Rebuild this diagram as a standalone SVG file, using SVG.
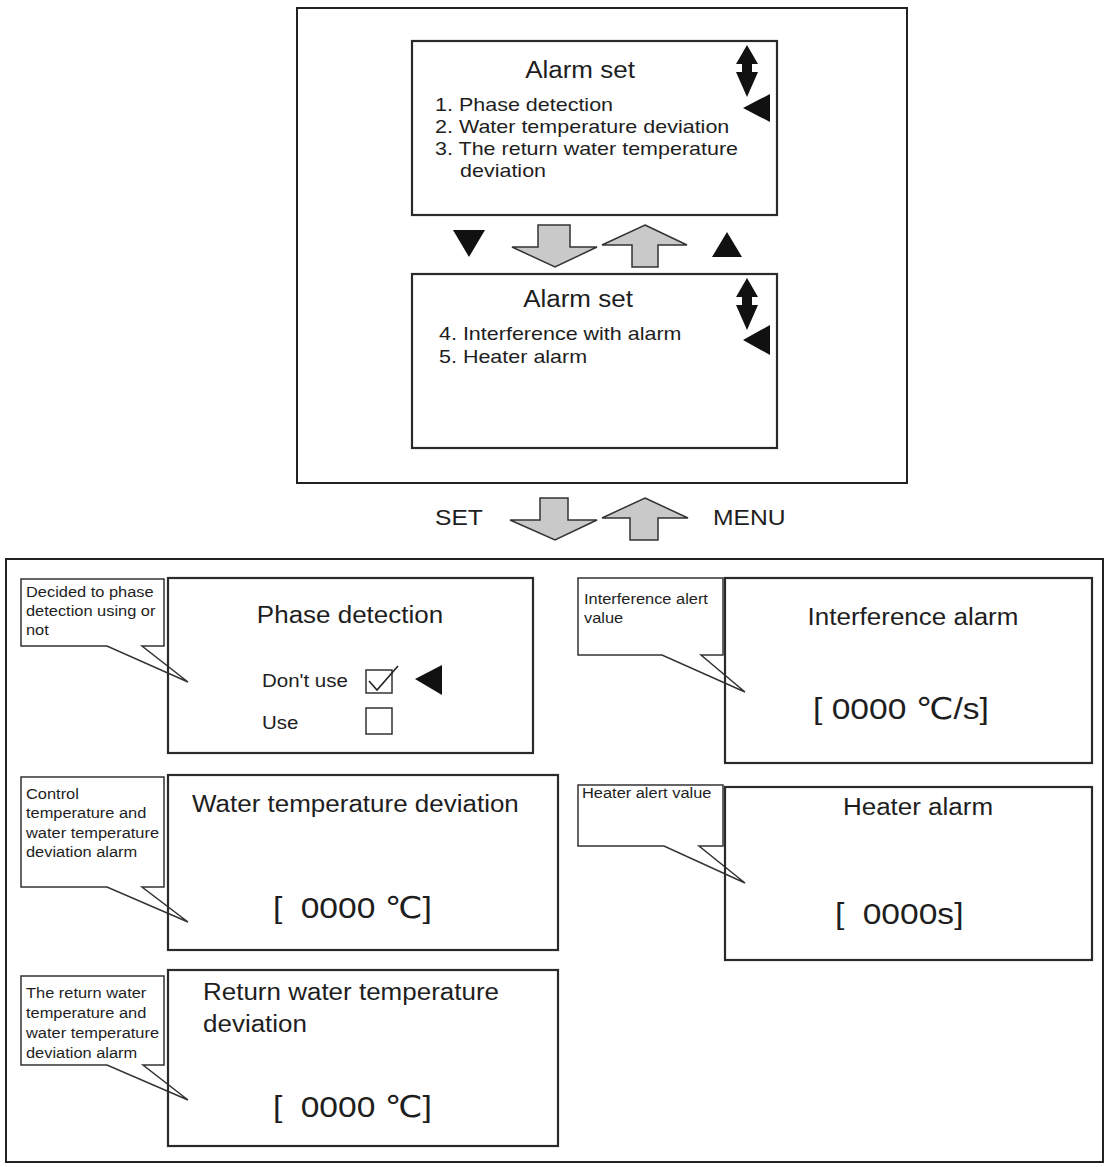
<svg xmlns="http://www.w3.org/2000/svg" width="1110" height="1167" viewBox="0 0 1110 1167">
<style>
text{font-family:"Liberation Sans",Arial,"DejaVu Sans",sans-serif;fill:#1e1e1e}
.frame{fill:none;stroke:#222;stroke-width:2}
.scr{fill:none;stroke:#2a2a2a;stroke-width:2.2}
.call{fill:#fff;stroke:#333;stroke-width:1.5}
.blk{fill:#c9c9c9;stroke:#333;stroke-width:1.5;stroke-linejoin:miter}
.tri{fill:#111}
.t{font-size:23.2px}
.l{font-size:19.2px}
.c{font-size:15.2px}
.o{font-size:18.3px}
.v{font-size:30px}
.k{font-size:22px}
.box{fill:none;stroke:#333;stroke-width:1.5}
</style>
<rect fill="#fff" x="0" y="0" width="1110" height="1167"/>

<g id="menu-frame">
<rect class="frame" x="297" y="8" width="610" height="475"/>
</g>

<g id="screen-alarm-set-1">
<rect class="scr" x="412" y="41" width="365" height="174"/>
<text class="t" text-anchor="middle" transform="translate(580 78) scale(1.12 1)">Alarm set</text>
<text class="l" transform="translate(435 111) scale(1.12 1)">1. Phase detection</text>
<text class="l" transform="translate(435 133) scale(1.12 1)">2. Water temperature deviation</text>
<text class="l" transform="translate(435 155) scale(1.12 1)">3. The return water temperature</text>
<text class="l" transform="translate(460 177) scale(1.12 1)">deviation</text>
<polygon class="tri" points="747,45 758,64 752,64 752,72 758,72 747,97 736,72 742,72 742,64 736,64"/>
<polygon class="tri" points="743,108 770,94 770,122"/>
</g>

<g id="screen-alarm-set-2">
<rect class="scr" x="412" y="274" width="365" height="174"/>
<text class="t" text-anchor="middle" transform="translate(578 307) scale(1.12 1)">Alarm set</text>
<text class="l" transform="translate(439 340) scale(1.12 1)">4. Interference with alarm</text>
<text class="l" transform="translate(439 363) scale(1.12 1)">5. Heater alarm</text>
<polygon class="tri" points="747,278 758,297 752,297 752,305 758,305 747,330 736,305 742,305 742,297 736,297"/>
<polygon class="tri" points="743,340 770,325 770,355"/>
</g>

<g id="connectors">
<polygon class="tri" points="453,230 485,230 469,257"/>
<polygon class="blk" points="538,225 570,225 570,247 597,247 555,267 512,247 538,247"/>
<polygon class="blk" points="645,225 687,245 658,245 658,267 632,267 632,245 602,245"/>
<polygon class="tri" points="727,232 742,257 712,257"/>
<text class="k" transform="translate(435 525) scale(1.12 1)">SET</text>
<polygon class="blk" points="540,498 568,498 568,520 597,520 555,540 510,520 540,520"/>
<polygon class="blk" points="645,498 688,518 658,518 658,540 630,540 630,518 602,518"/>
<text class="k" transform="translate(713 525) scale(1.12 1)">MENU</text>
</g>

<g id="settings-frame">
<rect class="frame" x="6" y="559" width="1097" height="603"/>
</g>

<g id="phase-detection">
<path class="call" d="M142,646 L164,646 L164,579 L21,579 L21,646 L107,646 L188,682 Z"/>
<text class="c" transform="translate(26 597) scale(1.08 1)">Decided to phase</text>
<text class="c" transform="translate(26 616) scale(1.08 1)">detection using or</text>
<text class="c" transform="translate(26 635) scale(1.08 1)">not</text>
<rect class="scr" x="168" y="578" width="365" height="175"/>
<text class="t" text-anchor="middle" transform="translate(350 623) scale(1.12 1)">Phase detection</text>
<text class="o" transform="translate(262 687) scale(1.12 1)">Don't use</text>
<text class="o" transform="translate(262 729) scale(1.12 1)">Use</text>
<rect class="box" x="366" y="670" width="26" height="23"/>
<polyline fill="none" stroke="#222" stroke-width="1.6" points="369,681 377,690 398,666"/>
<rect class="box" x="366" y="708" width="26" height="26"/>
<polygon class="tri" points="415,679 442,665 442,695"/>
</g>

<g id="water-temperature-deviation">
<path class="call" d="M142,887 L164,887 L164,777 L21,777 L21,887 L107,887 L188,922 Z"/>
<text class="c" transform="translate(26 799) scale(1.08 1)">Control</text>
<text class="c" transform="translate(26 818) scale(1.08 1)">temperature and</text>
<text class="c" transform="translate(26 838) scale(1.08 1)">water temperature</text>
<text class="c" transform="translate(26 857) scale(1.08 1)">deviation alarm</text>
<rect class="scr" x="168" y="775" width="390" height="175"/>
<text class="t" transform="translate(192 812) scale(1.12 1)">Water temperature deviation</text>
<text class="v" transform="translate(273 918) scale(1.12 1)">[ <tspan dx="8">0000</tspan> ℃]</text>
</g>

<g id="return-water-temperature-deviation">
<path class="call" d="M143,1065 L164,1065 L164,976 L21,976 L21,1065 L107,1065 L188,1100 Z"/>
<text class="c" transform="translate(26 998) scale(1.08 1)">The return water</text>
<text class="c" transform="translate(26 1018) scale(1.08 1)">temperature and</text>
<text class="c" transform="translate(26 1038) scale(1.08 1)">water temperature</text>
<text class="c" transform="translate(26 1058) scale(1.08 1)">deviation alarm</text>
<rect class="scr" x="168" y="970" width="390" height="176"/>
<text class="t" transform="translate(203 1000) scale(1.12 1)">Return water temperature</text>
<text class="t" transform="translate(203 1032) scale(1.12 1)">deviation</text>
<text class="v" transform="translate(273 1117) scale(1.12 1)">[ <tspan dx="8">0000</tspan> ℃]</text>
</g>

<g id="interference-alarm">
<path class="call" d="M701,655 L723,655 L723,578 L578,578 L578,655 L662,655 L745,692 Z"/>
<text class="c" transform="translate(584 604) scale(1.08 1)">Interference alert</text>
<text class="c" transform="translate(584 623) scale(1.08 1)">value</text>
<rect class="scr" x="725" y="578" width="367" height="185"/>
<text class="t" text-anchor="middle" transform="translate(913 625) scale(1.12 1)">Interference alarm</text>
<text class="v" transform="translate(813 719) scale(1.12 1)">[ 0000 ℃/s]</text>
</g>

<g id="heater-alarm">
<path class="call" d="M699,846 L723,846 L723,785 L578,785 L578,846 L664,846 L745,883 Z"/>
<text class="c" transform="translate(582 798) scale(1.08 1)">Heater alert value</text>
<rect class="scr" x="725" y="787" width="367" height="173"/>
<text class="t" text-anchor="middle" transform="translate(918 815) scale(1.12 1)">Heater alarm</text>
<text class="v" transform="translate(835 924) scale(1.12 1)">[ <tspan dx="8">0000s]</tspan></text>
</g>
</svg>
